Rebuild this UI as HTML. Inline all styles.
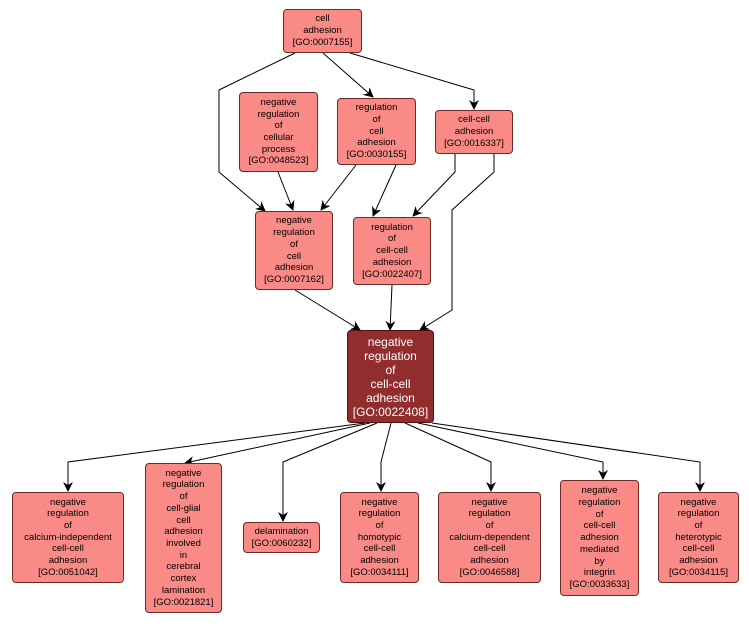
<!DOCTYPE html>
<html><head><style>
body{margin:0;background:#fff;width:749px;height:624px;position:relative;overflow:hidden;font-family:"Liberation Sans",sans-serif}
.n{position:absolute;box-sizing:border-box;background:#fa8a86;border:1px solid #6b2a28;border-radius:4px;display:flex;align-items:center;justify-content:center;text-align:center;font-size:9.5px;line-height:11.7px;color:#000}
.m{background:#922d2d;color:#fff;font-size:12px;line-height:14px;border-color:#4a1212}
svg{position:absolute;left:0;top:0}
</style></head><body>
<svg width="749" height="624"><defs><marker id="a" markerWidth="10" markerHeight="10" refX="9" refY="5" orient="auto" markerUnits="userSpaceOnUse"><path d="M0,0 L10,5 L0,10 L3,5 z" fill="#000"/></marker></defs>
<g fill="none" stroke="#000" stroke-width="1" marker-end="url(#a)">
<polyline points="295,53 219,90 219,172 265,211"/>
<polyline points="323,53 373,97"/>
<polyline points="350,53 474,90 474,109"/>
<polyline points="278,172 293,210"/>
<polyline points="356,165 321,210"/>
<polyline points="396,165 373,216"/>
<polyline points="455,154 455,172 413,216"/>
<polyline points="494,154 494,172 452,210 452,310 420,330"/>
<polyline points="295,290 360,330"/>
<polyline points="392,285 390,330"/>
<polyline points="365,423 68,462 68,491"/>
<polyline points="370,423 185,463"/>
<polyline points="377,423 283,462 283,521"/>
<polyline points="391,423 381,462 381,491"/>
<polyline points="405,423 491,462 491,491"/>
<polyline points="418,423 603,462 603,479"/>
<polyline points="432,423 700,462 700,491"/>
</g></svg>
<div class="n" style="left:283px;top:9px;width:79px;height:44px">cell<br>adhesion<br>[GO:0007155]</div>
<div class="n" style="left:239px;top:92px;width:79px;height:80px">negative<br>regulation<br>of<br>cellular<br>process<br>[GO:0048523]</div>
<div class="n" style="left:337px;top:98px;width:79px;height:67px">regulation<br>of<br>cell<br>adhesion<br>[GO:0030155]</div>
<div class="n" style="left:435px;top:110px;width:78px;height:44px">cell-cell<br>adhesion<br>[GO:0016337]</div>
<div class="n" style="left:255px;top:211px;width:78px;height:79px">negative<br>regulation<br>of<br>cell<br>adhesion<br>[GO:0007162]</div>
<div class="n" style="left:353px;top:217px;width:78px;height:68px">regulation<br>of<br>cell-cell<br>adhesion<br>[GO:0022407]</div>
<div class="n m" style="left:347px;top:330px;width:87px;height:93px">negative<br>regulation<br>of<br>cell-cell<br>adhesion<br>[GO:0022408]</div>
<div class="n" style="left:12px;top:492px;width:112px;height:91px">negative<br>regulation<br>of<br>calcium-independent<br>cell-cell<br>adhesion<br>[GO:0051042]</div>
<div class="n" style="left:145px;top:463px;width:77px;height:150px">negative<br>regulation<br>of<br>cell-glial<br>cell<br>adhesion<br>involved<br>in<br>cerebral<br>cortex<br>lamination<br>[GO:0021821]</div>
<div class="n" style="left:243px;top:522px;width:77px;height:31px">delamination<br>[GO:0060232]</div>
<div class="n" style="left:340px;top:492px;width:79px;height:91px">negative<br>regulation<br>of<br>homotypic<br>cell-cell<br>adhesion<br>[GO:0034111]</div>
<div class="n" style="left:438px;top:492px;width:103px;height:91px">negative<br>regulation<br>of<br>calcium-dependent<br>cell-cell<br>adhesion<br>[GO:0046588]</div>
<div class="n" style="left:560px;top:480px;width:79px;height:116px">negative<br>regulation<br>of<br>cell-cell<br>adhesion<br>mediated<br>by<br>integrin<br>[GO:0033633]</div>
<div class="n" style="left:658px;top:492px;width:81px;height:91px">negative<br>regulation<br>of<br>heterotypic<br>cell-cell<br>adhesion<br>[GO:0034115]</div>
</body></html>
